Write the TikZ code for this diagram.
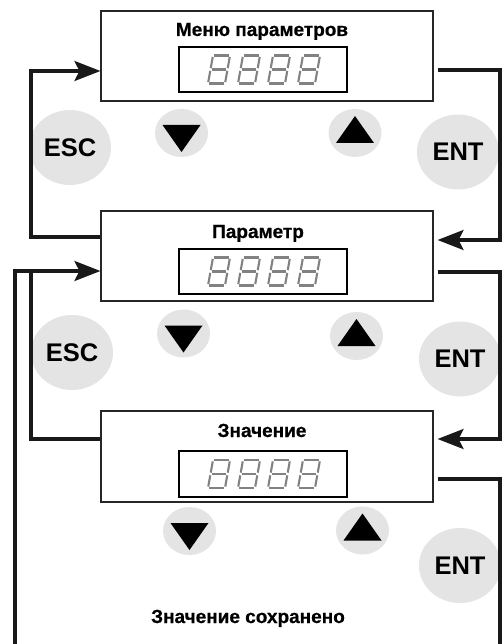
\documentclass[tikz,border=0pt]{standalone}
\usepackage{fontspec}
\setmainfont{Liberation Sans}
\newfontfamily\titlefont{Liberation Sans Bold}[FakeBold=0.6]
\usetikzlibrary{arrows.meta,shapes.geometric,calc}
\definecolor{btnfill}{RGB}{228,228,228}
\definecolor{seggray}{RGB}{130,130,130}
\tikzset{
  panel/.style={draw=black!85, line width=1.1pt, rectangle, minimum width=332pt, inner sep=0pt},
  readout/.style={draw=black, line width=1.1pt, rectangle, minimum width=168pt, inner sep=0pt},
  title/.style={font=\titlefont\fontsize{19}{20}\selectfont, inner sep=0pt, anchor=base},
  bigbtn/.style={ellipse, fill=btnfill, minimum width=82pt, minimum height=75pt, inner sep=0pt, font=\bfseries\fontsize{25.5}{26}\selectfont},
  smallbtn/.style={ellipse, fill=btnfill, minimum width=53pt, minimum height=48pt, inner sep=0pt},
  conn/.style={line width=3.2pt, draw=black!90, line join=miter},
  tip/.style={-{Stealth[length=26pt, width=20pt, inset=5pt]}},
  seg/.style={draw=seggray, line width=2.1pt, shorten <=1.4pt, shorten >=1.4pt, line cap=butt},
  pics/digit/.style={code={
    \coordinate (-tl) at (-6,-14); \coordinate (-tr) at (11,-14);
    \coordinate (-ml) at (-8.5,0); \coordinate (-mr) at (8.5,0);
    \coordinate (-bl) at (-11,14); \coordinate (-br) at (6,14);
    \draw[seg] (-tl) -- (-tr); \draw[seg] (-ml) -- (-mr); \draw[seg] (-bl) -- (-br);
    \draw[seg] (-tl) -- (-ml); \draw[seg] (-ml) -- (-bl);
    \draw[seg] (-tr) -- (-mr); \draw[seg] (-mr) -- (-br);
  }},
  pics/four/.style={code={
    \pic (-a) at (-44,0) {digit}; \pic (-b) at (-14,0) {digit};
    \pic (-c) at (16,0) {digit};  \pic (-d) at (46,0) {digit};
  }}
}
\begin{document}
\begin{tikzpicture}[x=1pt,y=-1pt]
\useasboundingbox (0,0) rectangle (503,644);

% panels
\node[panel, minimum height=90pt] (b1) at (267,56) {};
\node[panel, minimum height=90pt] (b2) at (267,256) {};
\node[panel, minimum height=91pt] (b3) at (267,456.5) {};
\node[title] (t1) at (262,36) {Меню параметров};
\node[title] (t2) at (258,238) {Параметр};
\node[title] (t3) at (262,437) {Значение};
\node[readout, minimum height=45pt] (d1) at (263,69.5) {};
\node[readout, minimum height=45pt] (d2) at (263,271.5) {};
\node[readout, minimum height=46pt] (d3) at (263,474) {};
\pic (r1) at (d1.center) {four};
\pic (r2) at (d2.center) {four};
\pic (r3) at (d3.center) {four};

% buttons
\node[bigbtn] (esc1) at (70,147.5) {ESC};
\node[bigbtn] (ent1) at (458,152) {ENT};
\node[smallbtn] (dn1) at (181.5,133) {};
\node[smallbtn] (up1) at (355,133) {};
\node[bigbtn] (esc2) at (72,352.5) {ESC};
\node[bigbtn] (ent2) at (460,359) {ENT};
\node[smallbtn] (dn2) at (183.5,333.5) {};
\node[smallbtn] (up2) at (356.5,336) {};
\node[bigbtn] (ent3) at (460,565.5) {ENT};
\node[smallbtn] (dn3) at (189.5,531) {};
\node[smallbtn] (up3) at (362.5,530.5) {};
\foreach \n in {dn1,dn2,dn3}{
  \fill[black] ($(\n.center)+(-19,-8)$) -- ($(\n.center)+(19,-8)$) -- ($(\n.center)+(0,19)$) -- cycle;
}
\foreach \n in {up1,up2,up3}{
  \fill[black] ($(\n.center)+(-19,10)$) -- ($(\n.center)+(19,10)$) -- ($(\n.center)+(0,-17)$) -- cycle;
}

\node[title] (save) at (248,623) {Значение сохранено};

% connector corners
\coordinate (a1) at (31,237);
\coordinate (a2) at (31,71);
\coordinate (c1) at (500,70);
\coordinate (c2) at (500,240);
\coordinate (e1) at (31,439);
\coordinate (e2) at (31,271);
\coordinate (f1) at (500,272);
\coordinate (f2) at (500,439);
\coordinate (g1) at (500,479);
\coordinate (g2) at (500,648);
\coordinate (g3) at (15,648);
\coordinate (g4) at (15,271);

% connectors
\draw[conn, tip] (b2.west |- a1) -- (a1) -- (a2) -- (b1.west |- a2);
\draw[conn, tip, shorten <=4pt, shorten >=4pt] (b1.east |- c1) -- (c1) -- (c2) -- (b2.east |- c2);
\draw[conn] (b3.west |- e1) -- (e1) -- (e2);
\draw[conn, tip, shorten <=4pt, shorten >=4pt] (b2.east |- f1) -- (f1) -- (f2) -- (b3.east |- f2);
\draw[conn, tip, shorten <=4pt] (b3.east |- g1) -- (g1) -- (g2) -- (g3) -- (g4) -- (b2.west |- g4);
\end{tikzpicture}
\end{document}
